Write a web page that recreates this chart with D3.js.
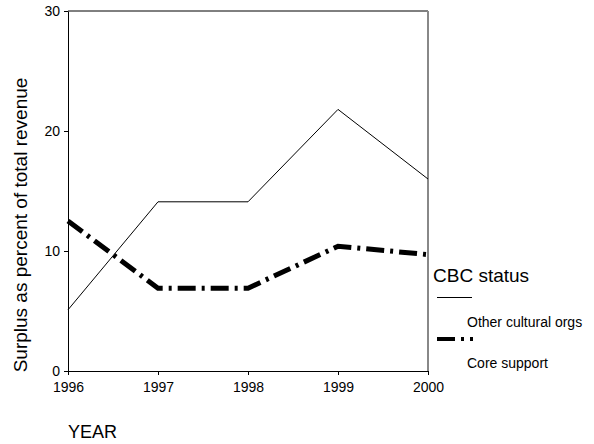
<!DOCTYPE html>
<html>
<head>
<meta charset="utf-8">
<script src="https://cdn.jsdelivr.net/npm/d3@7"></script>
<style>
  html, body { margin: 0; padding: 0; background: #fff; }
  svg { display: block; font-family: "Liberation Sans", Arial, sans-serif; }
</style>
</head>
<body>
<svg id="chart" width="594" height="444"></svg>
<script>
const years = [1996, 1997, 1998, 1999, 2000];
const otherCultural = [5.1, 14.1, 14.1, 21.8, 16.0];
const coreSupport = [12.5, 6.9, 6.9, 10.4, 9.7];
const yTicks = [0, 10, 20, 30];
const seriesNames = ["Other cultural orgs", "Core support"];

const FONT = "Liberation Sans, Arial, sans-serif";
const svg = d3.select("#chart");
const x = d3.scaleLinear().domain([1996, 2000]).range([68, 428]);
const y = d3.scaleLinear().domain([0, 30]).range([371, 11]);

// frame top and right
svg.append("line").attr("x1", 68).attr("x2", 428).attr("y1", 11).attr("y2", 11)
  .attr("stroke", "#000").attr("stroke-width", 1);
svg.append("line").attr("x1", 428).attr("x2", 428).attr("y1", 11).attr("y2", 371)
  .attr("stroke", "#888").attr("stroke-width", 2);

const xAxis = svg.append("g").attr("transform", "translate(0,371)")
  .call(d3.axisBottom(x).tickValues(years).tickFormat(d3.format("d")).tickSize(4).tickSizeOuter(0));
const yAxis = svg.append("g").attr("transform", "translate(68,0)")
  .call(d3.axisLeft(y).tickValues(yTicks).tickSize(4).tickSizeOuter(0));
[xAxis, yAxis].forEach(a => {
  a.attr("font-family", FONT);
  a.selectAll("path, line").attr("stroke", "#000");
  a.selectAll("text").attr("font-size", 14).attr("fill", "#000");
});
xAxis.selectAll("text").attr("dy", null).attr("y", 21);
yAxis.selectAll("text").attr("x", -8).attr("dy", "0.35em");

const line = d3.line().x(d => x(d[0])).y(d => y(d[1]));

svg.append("path").datum(years.map((yr, i) => [yr, otherCultural[i]]))
  .attr("d", line).attr("fill", "none").attr("stroke", "#000").attr("stroke-width", 1);
svg.append("path").datum(years.map((yr, i) => [yr, coreSupport[i]]))
  .attr("d", line).attr("fill", "none").attr("stroke", "#000").attr("stroke-width", 5)
  .attr("stroke-dasharray", "18,6,3,6");

// axis titles
svg.append("text").attr("x", 68).attr("y", 438).attr("font-size", 18).attr("fill", "#000").text("YEAR");
svg.append("text").attr("transform", "translate(27,225) rotate(-90)")
  .attr("text-anchor", "middle").attr("font-size", 19).attr("fill", "#000")
  .text("Surplus as percent of total revenue");

// legend
svg.append("text").attr("x", 433).attr("y", 281.5).attr("font-size", 19).attr("fill", "#000").text("CBC status");
svg.append("line").attr("x1", 437).attr("x2", 472).attr("y1", 297.5).attr("y2", 297.5)
  .attr("stroke", "#000").attr("stroke-width", 1);
svg.append("text").attr("x", 467).attr("y", 327).attr("font-size", 14).attr("fill", "#000").text(seriesNames[0]);
svg.append("line").attr("x1", 437).attr("x2", 473).attr("y1", 339).attr("y2", 339)
  .attr("stroke", "#000").attr("stroke-width", 4).attr("stroke-dasharray", "18,6,3,6");
svg.append("text").attr("x", 467).attr("y", 368).attr("font-size", 14).attr("fill", "#000").text(seriesNames[1]);
</script>
</body>
</html>
